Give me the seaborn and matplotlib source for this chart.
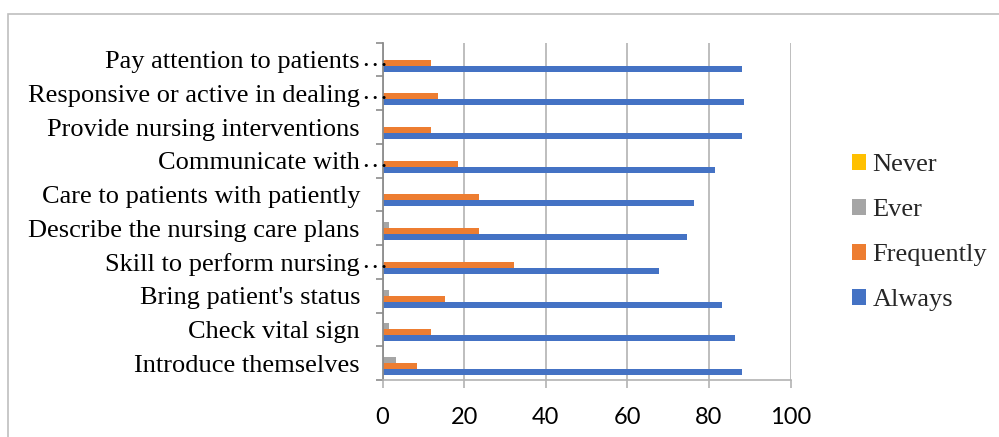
import matplotlib
matplotlib.use("Agg")
import matplotlib.pyplot as plt
import matplotlib.transforms as mtransforms
from matplotlib.patches import Rectangle
import seaborn as sns
import pandas as pd

# Survey items, top to bottom as shown
items = [
    "Pay attention to patients…",
    "Responsive or active in dealing…",
    "Provide nursing interventions",
    "Communicate with…",
    "Care to patients with patiently",
    "Describe the nursing care plans",
    "Skill to perform nursing…",
    "Bring patient's status",
    "Check vital sign",
    "Introduce themselves",
]

# Percentage of responses per frequency level
never = [0, 0, 0, 0, 0, 0, 0, 0, 0, 0]
ever = [0, 0, 0, 0, 0, 1.7, 0, 1.7, 1.7, 3.4]
frequently = [11.9, 13.6, 11.9, 18.6, 23.7, 23.7, 32.2, 15.3, 11.9, 8.5]
always = [88.1, 88.5, 88.1, 81.4, 76.3, 74.6, 67.8, 83.1, 86.4, 88.1]

levels = ["Never", "Ever", "Frequently", "Always"]
palette = {"Never": "#FFC000", "Ever": "#A5A5A5",
           "Frequently": "#ED7D31", "Always": "#4472C4"}

rows = []
for level, vals in zip(levels, [never, ever, frequently, always]):
    for item, v in zip(items, vals):
        rows.append({"item": item, "level": level, "pct": v})
df = pd.DataFrame(rows)

sns.set_theme(style="white")
plt.rcParams["font.family"] = ["Liberation Serif", "DejaVu Serif"]

FS = 19

fig = plt.figure(figsize=(9.99, 4.37), dpi=100)
ax = fig.add_axes([382.5 / 999, 1 - 380 / 437, 408 / 999, (380 - 42.7) / 437])

sns.barplot(data=df, y="item", x="pct", hue="level", order=items,
            hue_order=levels, palette=palette, orient="h", width=0.71,
            gap=0, linewidth=0, saturation=1, errorbar=None, ax=ax)

ax.set_xlim(0, 100)
ax.set_ylim(len(items) - 0.5, -0.5)
ax.set_xticks([0, 20, 40, 60, 80, 100])
ax.set_xlabel("")
ax.set_ylabel("")

# vertical gridlines
ax.set_axisbelow(True)
ax.grid(axis="x", color="#b3b3b3", linewidth=1.2)
ax.grid(axis="y", visible=False)

for side in ["top", "right"]:
    ax.spines[side].set_visible(False)
ax.spines["left"].set_color("#8c8c8c")
ax.spines["left"].set_linewidth(1.3)
ax.spines["bottom"].set_color("#b3b3b3")
ax.spines["bottom"].set_linewidth(1.2)

# category labels centred in each band; ellipsis drawn separately
base_labels = [s.rstrip("…") for s in items]
ax.set_yticks(range(len(items)))
ax.set_yticklabels(base_labels, fontsize=FS, color="black")
ax.tick_params(axis="y", which="major", length=0, pad=16.2)
ax.set_yticks([i - 0.5 for i in range(len(items) + 1)], minor=True)
ax.tick_params(axis="y", which="minor", length=5.2, width=1.2,
               color="#8c8c8c", direction="out", left=True)

trans = mtransforms.offset_copy(
    mtransforms.blended_transform_factory(ax.transAxes, ax.transData),
    fig=fig, x=-21, y=0, units="dots")
for i, s in enumerate(items):
    if s.endswith("…"):
        ax.text(0, i, "…", transform=trans, ha="left", va="center",
                fontsize=FS, color="black", clip_on=False)

ax.tick_params(axis="x", which="major", length=5.8, width=1.2,
               color="#b3b3b3", direction="out", bottom=True,
               labelsize=17, pad=14, labelcolor="black")
for lbl in ax.get_xticklabels():
    lbl.set_fontfamily(["Lato", "DejaVu Sans"])

leg = ax.legend(loc="upper left", bbox_to_anchor=(852 / 999, 1 - 154 / 437),
                bbox_transform=fig.transFigure, frameon=False, fontsize=FS,
                handlelength=0.53, handleheight=0.53, handletextpad=0.25,
                labelspacing=0.87, borderpad=0, borderaxespad=0)
leg.set_title(None)

# outer chart border
fig.patches.append(Rectangle((7.5 / 999, -0.1), 1.2, 1.1 - 13.5 / 437,
                             transform=fig.transFigure, fill=False,
                             edgecolor="#bfbfbf", linewidth=1.2))

fig.savefig("out.png", dpi=100)
